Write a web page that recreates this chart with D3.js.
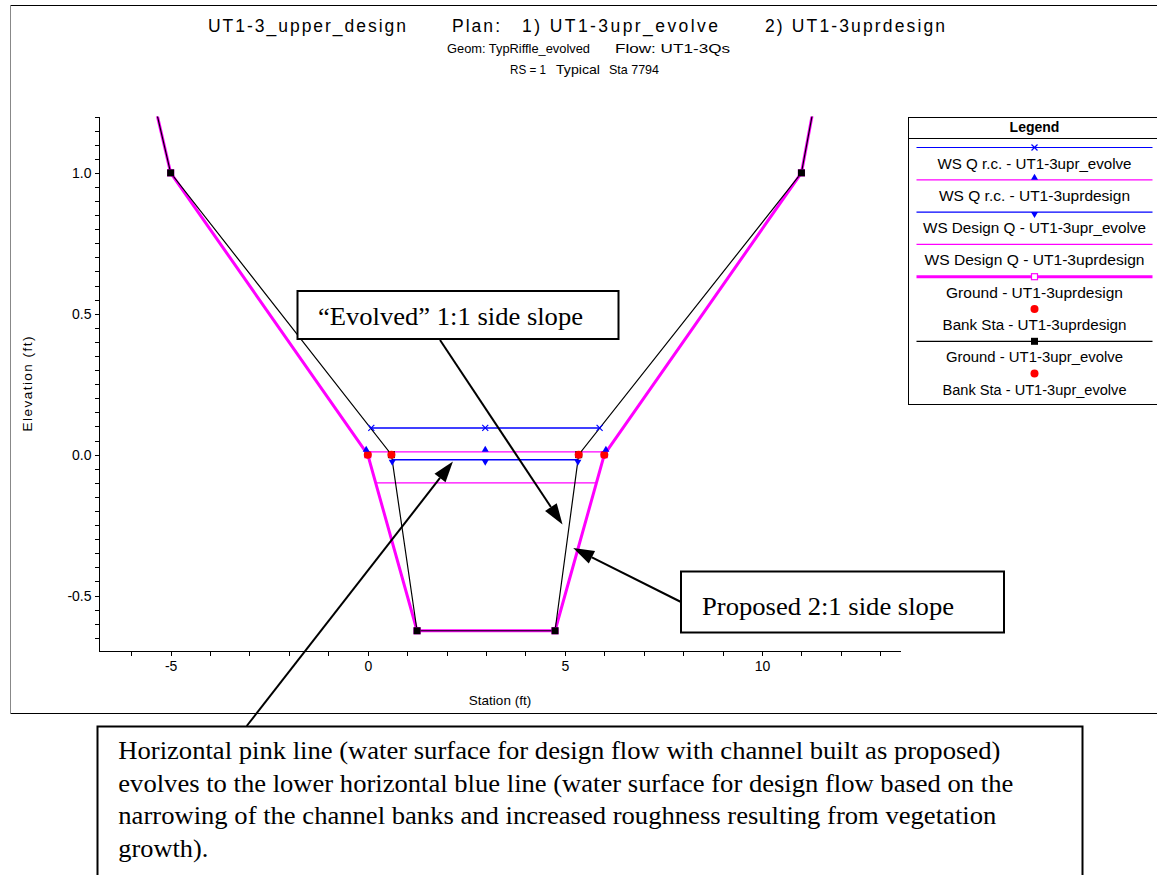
<!DOCTYPE html>
<html>
<head>
<meta charset="utf-8">
<title>UT1-3 typical riffle cross section</title>
<style>
  body { margin: 0; background: #fff; }
  svg { display: block; }
  .sans { font-family: "Liberation Sans", Arial, sans-serif; fill: #000; }
  .serif { font-family: "Liberation Serif", "Times New Roman", serif; fill: #000; }
  .axis path, .axis line { stroke: #000; shape-rendering: crispEdges; }
  .axis text { font-family: "Liberation Sans", Arial, sans-serif; font-size: 14px; fill: #000; }
</style>
</head>
<body>
<svg id="chart" width="1157" height="875"></svg>
<script src="https://cdnjs.cloudflare.com/ajax/libs/d3/7.8.5/d3.min.js"></script>
<script>
    // ground profiles (station ft, elevation ft)
    const groundDesignSta = [-5.5, -5, 0, 1.25, 4.75, 6, 11, 11.4];
    const groundDesignElev = [1.3, 1.0, 0, -0.625, -0.625, 0, 1.0, 1.3];
    const groundEvolveSta = [-5.5, -5, 0.6, 1.25, 4.75, 5.35, 11, 11.4];
    const groundEvolveElev = [1.3, 1.0, 0, -0.625, -0.625, 0, 1.0, 1.3];

    // bank stations
    const bankDesignSta = [0, 6];
    const bankDesignElev = [0, 0];
    const bankEvolveSta = [0.6, 5.35];
    const bankEvolveElev = [0, 0];

    // water surfaces: left edge, middle, right edge
    const wsQrcEvolveSta = [0.09, 2.98, 5.88];
    const wsQrcEvolveElev = 0.095;
    const wsQrcDesignSta = [-0.04, 2.98, 6.04];
    const wsQrcDesignElev = 0.01;
    const wsDesignEvolveSta = [0.62, 2.98, 5.33];
    const wsDesignEvolveElev = -0.018;
    const wsDesignDesignSta = [0.2, 5.8];
    const wsDesignDesignElev = -0.1;

    const xTicks = d3.range(-6, 14);
    const yTicks = d3.range(-13, 25).map(i => i / 20);

    const legendLabels = [
        "WS Q r.c. - UT1-3upr_evolve",
        "WS Q r.c. - UT1-3uprdesign",
        "WS Design Q - UT1-3upr_evolve",
        "WS Design Q - UT1-3uprdesign",
        "Ground - UT1-3uprdesign",
        "Bank Sta - UT1-3uprdesign",
        "Ground - UT1-3upr_evolve",
        "Bank Sta - UT1-3upr_evolve"
    ];
    const legendWidths = [194, 191, 223, 220, 177, 184, 177, 184];

    const BLUE = "#0000ff", PINK = "#ff00ff", RED = "#ff0000";

    const svg = d3.select("#chart");

    // outer frame
    svg.append("line").attr("x1", 10.5).attr("x2", 1157).attr("y1", 5.5).attr("y2", 5.5).attr("stroke", "#000");
    svg.append("line").attr("x1", 10.5).attr("x2", 1157).attr("y1", 713.5).attr("y2", 713.5).attr("stroke", "#000");
    svg.append("line").attr("x1", 10.5).attr("x2", 10.5).attr("y1", 5.5).attr("y2", 713.5).attr("stroke", "#888");

    // titles
    const titleParts = [
        ["UT1-3_upper_design", 208, 198],
        ["Plan:", 452, 48],
        ["1) UT1-3upr_evolve", 522, 196],
        ["2) UT1-3uprdesign", 765, 180]
    ];
    titleParts.forEach(([t, tx, w]) => {
        svg.append("text").attr("class", "sans").attr("x", tx).attr("y", 31.5)
            .attr("font-size", 17.5).attr("textLength", w).attr("lengthAdjust", "spacing").text(t);
    });
    const subParts = [
        ["Geom: TypRiffle_evolved", 447, 52.5, 143],
        ["Flow: UT1-3Qs", 615, 52.5, 115],
        ["RS = 1", 510, 74, 36],
        ["Typical", 556, 74, 44],
        ["Sta 7794", 609, 74, 50]
    ];
    subParts.forEach(([t, tx, ty, w]) => {
        svg.append("text").attr("class", "sans").attr("x", tx).attr("y", ty)
            .attr("font-size", 13.5).attr("textLength", w).attr("lengthAdjust", "spacingAndGlyphs").text(t);
    });

    // scales
    const x = d3.scaleLinear().domain([-6.83, 13.5]).range([98.5, 900]);
    const y = d3.scaleLinear().domain([-0.695, 1.2]).range([650.5, 116.5]);

    svg.append("g").attr("class", "axis").attr("transform", "translate(0,650.5)")
        .call(d3.axisBottom(x).tickValues(xTicks).tickSize(5).tickSizeOuter(0).tickPadding(6)
            .tickFormat(d => d % 5 === 0 ? String(d) : ""));

    svg.append("g").attr("class", "axis").attr("transform", "translate(98.5,0)")
        .call(d3.axisLeft(y).tickValues(yTicks).tickSize(4).tickSizeOuter(0).tickPadding(3)
            .tickFormat(d => Math.abs(d * 2 - Math.round(d * 2)) < 1e-9 ? d.toFixed(1) : ""));

    svg.append("text").attr("class", "sans").attr("font-size", 13.5)
        .attr("transform", "translate(32,384) rotate(-90)").attr("text-anchor", "middle")
        .attr("textLength", 95).attr("lengthAdjust", "spacing").text("Elevation (ft)");
    svg.append("text").attr("class", "sans").attr("font-size", 13.5)
        .attr("x", 500).attr("y", 704.5).attr("text-anchor", "middle").text("Station (ft)");

    // plot area
    svg.append("clipPath").attr("id", "plot-clip").append("rect")
        .attr("x", 98.5).attr("y", 116.5).attr("width", 801.5).attr("height", 534);
    const plot = svg.append("g").attr("clip-path", "url(#plot-clip)");

    const line = d3.line().x(d => x(d[0])).y(d => y(d[1]));

    plot.append("path").attr("d", line(d3.zip(groundDesignSta, groundDesignElev)))
        .attr("fill", "none").attr("stroke", PINK).attr("stroke-width", 3).attr("stroke-linejoin", "round");

    // water surface lines
    const wsLines = [
        [wsQrcEvolveSta, wsQrcEvolveElev, BLUE, 1.5],
        [wsQrcDesignSta, wsQrcDesignElev, PINK, 1.2],
        [wsDesignEvolveSta, wsDesignEvolveElev, BLUE, 1.5],
        [wsDesignDesignSta, wsDesignDesignElev, PINK, 1.2]
    ];
    wsLines.forEach(([sta, el, col, w]) => {
        plot.append("path").attr("d", line(sta.map(s => [s, el])))
            .attr("fill", "none").attr("stroke", col).attr("stroke-width", w);
    });

    plot.append("path").attr("d", line(d3.zip(groundEvolveSta, groundEvolveElev)))
        .attr("fill", "none").attr("stroke", "#000").attr("stroke-width", 1.2);

    // marker helpers
    function crossMark(g, cx, cy) {
        g.append("path").attr("d", `M${cx - 3},${cy - 3}L${cx + 3},${cy + 3}M${cx - 3},${cy + 3}L${cx + 3},${cy - 3}`)
            .attr("stroke", BLUE).attr("stroke-width", 1.2);
    }
    function upTri(g, cx, cy) {
        g.append("path").attr("d", `M${cx - 3.5},${cy}L${cx + 3.5},${cy}L${cx},${cy - 6}Z`).attr("fill", BLUE);
    }
    function downTri(g, cx, cy) {
        g.append("path").attr("d", `M${cx - 3.5},${cy}L${cx + 3.5},${cy}L${cx},${cy + 6}Z`).attr("fill", BLUE);
    }
    function hollowSquare(g, cx, cy) {
        g.append("rect").attr("x", cx - 3).attr("y", cy - 3).attr("width", 6).attr("height", 6)
            .attr("fill", "#fff").attr("stroke", PINK).attr("stroke-width", 1.2);
    }
    function blackSquare(g, cx, cy) {
        g.append("rect").attr("x", cx - 3.5).attr("y", cy - 3.5).attr("width", 7).attr("height", 7).attr("fill", "#000");
    }
    function redDot(g, cx, cy) {
        g.append("circle").attr("cx", cx).attr("cy", cy).attr("r", 4).attr("fill", RED);
    }

    groundDesignSta.forEach((s, i) => hollowSquare(plot, x(s), y(groundDesignElev[i])));
    groundEvolveSta.forEach((s, i) => blackSquare(plot, x(s), y(groundEvolveElev[i])));
    bankDesignSta.forEach((s, i) => redDot(plot, x(s), y(bankDesignElev[i])));
    bankEvolveSta.forEach((s, i) => redDot(plot, x(s), y(bankEvolveElev[i])));
    wsQrcEvolveSta.forEach(s => crossMark(plot, x(s), y(wsQrcEvolveElev)));
    wsQrcDesignSta.forEach(s => upTri(plot, x(s), y(wsQrcDesignElev)));
    wsDesignEvolveSta.forEach(s => downTri(plot, x(s), y(wsDesignEvolveElev)));

    // legend
    const lg = svg.append("g");
    lg.append("rect").attr("x", 908.5).attr("y", 117.5).attr("width", 260).attr("height", 287)
        .attr("fill", "#fff").attr("stroke", "#000");
    lg.append("line").attr("x1", 908.5).attr("x2", 1168).attr("y1", 138.5).attr("y2", 138.5).attr("stroke", "#000");
    lg.append("text").attr("class", "sans").attr("x", 1034.5).attr("y", 132).attr("text-anchor", "middle")
        .attr("font-size", 14).attr("font-weight", "bold").text("Legend");
    const lx = 1034.5;
    const legendStyle = [
        [BLUE, 1.2, crossMark],
        [PINK, 1.2, upTri],
        [BLUE, 1.2, downTri],
        [PINK, 1.2, null],
        [PINK, 3, hollowSquare],
        [null, 0, redDot],
        ["#000", 1.2, blackSquare],
        [null, 0, redDot]
    ];
    legendLabels.forEach((label, i) => {
        const ly = 147.5 + 32.3 * i;
        const [col, w, mark] = legendStyle[i];
        if (col) lg.append("line").attr("x1", 916.5).attr("x2", 1152.5).attr("y1", ly).attr("y2", ly)
            .attr("stroke", col).attr("stroke-width", w);
        if (mark) mark(lg, lx, ly);
        lg.append("text").attr("class", "sans").attr("x", lx - legendWidths[i] / 2).attr("y", ly + 21)
            .attr("font-size", 14).attr("textLength", legendWidths[i]).attr("lengthAdjust", "spacingAndGlyphs").text(label);
    });

    // annotations
    function arrow(x1, y1, x2, y2) {
        const a = Math.atan2(y2 - y1, x2 - x1), L = 21, W = 7;
        const bx = x2 - L * Math.cos(a), by = y2 - L * Math.sin(a);
        svg.append("line").attr("x1", x1).attr("y1", y1).attr("x2", bx).attr("y2", by)
            .attr("stroke", "#000").attr("stroke-width", 2);
        svg.append("path").attr("fill", "#000")
            .attr("d", `M${x2},${y2}L${bx - W * Math.sin(a)},${by + W * Math.cos(a)}L${bx + W * Math.sin(a)},${by - W * Math.cos(a)}Z`);
    }
    function box(bx, by, w, h) {
        svg.append("rect").attr("x", bx).attr("y", by).attr("width", w).attr("height", h)
            .attr("fill", "#fff").attr("stroke", "#000").attr("stroke-width", 2);
    }
    function note(t, tx, ty, w) {
        svg.append("text").attr("class", "serif").attr("x", tx).attr("y", ty).attr("font-size", 25)
            .attr("textLength", w).attr("lengthAdjust", "spacingAndGlyphs").text(t);
    }

    box(297.5, 291, 321, 48);
    note("\u201cEvolved\u201d 1:1 side slope", 318, 325, 265);
    arrow(440, 340, x(4.94), y(-0.248));

    box(681, 571.5, 323, 61);
    note("Proposed 2:1 side slope", 702, 614.5, 252);
    arrow(681, 602, x(5.21), y(-0.331));

    box(97.5, 726.5, 985, 200);
    const noteLines = [
        ["Horizontal pink line (water surface for design flow with channel built as proposed)", 882],
        ["evolves to the lower horizontal blue line (water surface for design flow based on the", 895],
        ["narrowing of the channel banks and increased roughness resulting from vegetation", 878],
        ["growth).", 90]
    ];
    noteLines.forEach(([t, w], i) => note(t, 118.3, 759 + 32.5 * i, w));
    arrow(246.7, 726, x(2.16), y(-0.024));
</script>
</body>
</html>
